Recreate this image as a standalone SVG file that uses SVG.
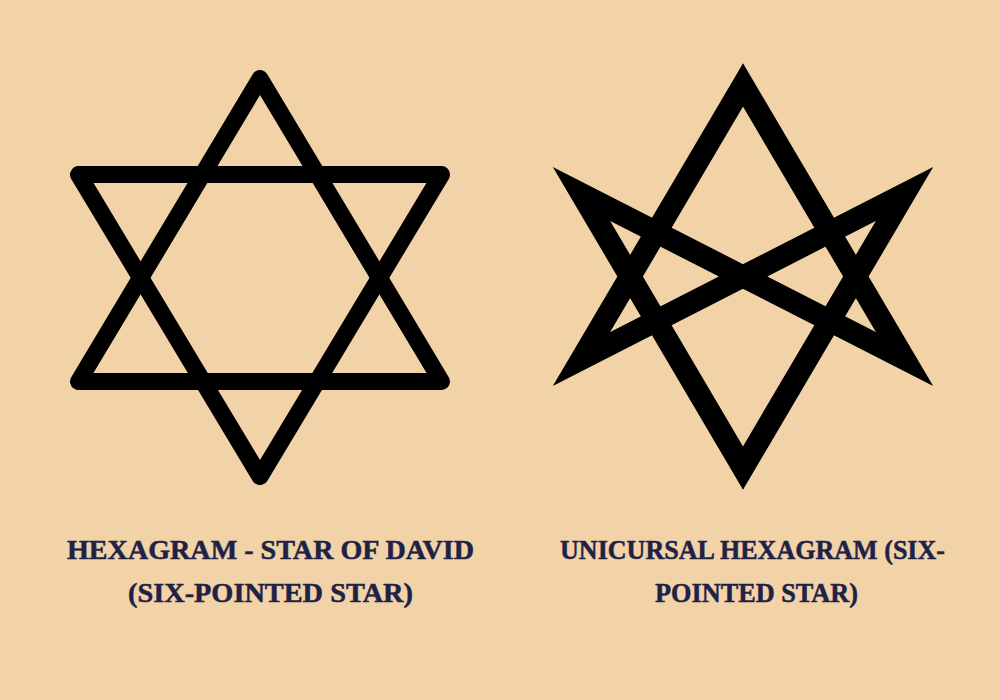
<svg xmlns="http://www.w3.org/2000/svg" width="1000" height="700" viewBox="0 0 1000 700">
<style>
.star{fill:none;stroke:#000;}
.david{stroke-width:17;stroke-linejoin:round;stroke-linecap:round;}
.uni{stroke-width:22;stroke-linejoin:miter;stroke-miterlimit:12;}
.lbl{font-family:"Liberation Serif",serif;font-weight:bold;font-size:27px;fill:#1E2246;stroke:#1E2246;stroke-width:0.5;text-anchor:middle;}
</style>
<rect x="0" y="0" width="1000" height="700" fill="#F2D3A8"/>
<g id="star-of-david">
<polygon class="star david" points="260,78.5 78.5,381.5 441.5,381.5"/>
<polygon class="star david" points="78.5,174.5 441.5,174.5 260,476.5"/>
</g>
<g id="unicursal-hexagram">
<polygon class="star uni" points="743,85 581.5,359 904.5,194 743,468 581.5,194 904.5,359"/>
</g>
<g id="label-left">
<text class="lbl" x="270.5" y="559" textLength="407" lengthAdjust="spacingAndGlyphs">HEXAGRAM - STAR OF DAVID</text>
<text class="lbl" x="270.5" y="601.5" textLength="285" lengthAdjust="spacingAndGlyphs">(SIX-POINTED STAR)</text>
</g>
<g id="label-right">
<text class="lbl" x="752.5" y="559" textLength="385" lengthAdjust="spacingAndGlyphs">UNICURSAL HEXAGRAM (SIX-</text>
<text class="lbl" x="756.5" y="601.5" textLength="203" lengthAdjust="spacingAndGlyphs">POINTED STAR)</text>
</g>
</svg>
